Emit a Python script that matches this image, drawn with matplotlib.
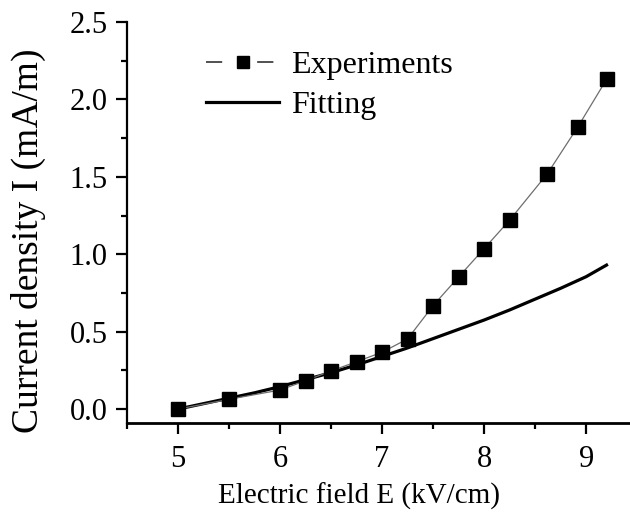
import matplotlib
matplotlib.use("Agg")
import matplotlib.pyplot as plt
from matplotlib.ticker import MultipleLocator
from matplotlib.lines import Line2D

plt.rcParams['font.family'] = ['Liberation Serif', 'DejaVu Serif']

exp_x = [5.0, 5.5, 6.0, 6.25, 6.5, 6.75, 7.0, 7.25, 7.5, 7.75, 8.0, 8.25, 8.62, 8.92, 9.2]
exp_y = [0.0, 0.063, 0.123, 0.183, 0.246, 0.306, 0.367, 0.453, 0.668, 0.853, 1.036, 1.22, 1.52, 1.824, 2.129]

fit_x = [5.0, 5.25, 5.5, 5.75, 6.0, 6.25, 6.5, 6.75, 7.0, 7.25, 7.5, 7.75, 8.0, 8.25, 8.5, 8.75, 9.0, 9.2]
fit_y = [0.0, 0.035, 0.07, 0.105, 0.145, 0.19, 0.235, 0.285, 0.34, 0.395, 0.455, 0.515, 0.575, 0.64, 0.71, 0.78, 0.855, 0.93]

x_ticks = [5, 6, 7, 8, 9]
y_ticks = [0.0, 0.5, 1.0, 1.5, 2.0, 2.5]
y_ticklabels = ['0.0', '0.5', '1.0', '1.5', '2.0', '2.5']

fig = plt.figure(figsize=(6.3, 5.17), dpi=100)
ax = fig.add_axes([127/630, 1 - 423/517, (630-127)/630, (423-22)/517])

ax.plot(exp_x, exp_y, color='#6e6e6e', lw=0.9, marker='s', markersize=9.5,
        markerfacecolor='black', markeredgecolor='black', zorder=3)
ax.plot(fit_x, fit_y, color='black', lw=2.3, zorder=2)

ax.set_xlim(4.5, 9.43)
ax.set_ylim(-0.09, 2.5)
ax.set_xticks(x_ticks)
ax.set_yticks(y_ticks)
ax.set_yticklabels(y_ticklabels)
ax.xaxis.set_minor_locator(MultipleLocator(0.5))
ax.yaxis.set_minor_locator(MultipleLocator(0.25))

for s in ['top', 'right']:
    ax.spines[s].set_visible(False)
ax.spines['left'].set_linewidth(1.6)
ax.spines['bottom'].set_linewidth(2.0)

ax.tick_params(which='major', direction='out', length=8, width=1.6, labelsize=22)
ax.tick_params(axis='x', which='major', pad=8)
ax.tick_params(axis='y', which='major', pad=6)
ax.tick_params(which='minor', direction='out', length=4, width=1.6)

ax.set_xlabel('Electric field E (kV/cm)', fontsize=21)
ax.xaxis.set_label_coords(0.461, -0.150)
ax.set_ylabel('Current density I (mA/m)', fontsize=27)
ax.yaxis.set_label_coords(-0.161, 0.454)

# legend handles
exp_line = Line2D([], [], color='#222222', lw=1.1, linestyle=(0, (10.6, 22.9)))
exp_mark = Line2D([], [], color='black', marker='s', markersize=8, linestyle='none')
fit_line = Line2D([], [], color='black', lw=2.3)

leg = ax.legend([(exp_line, exp_mark), fit_line], ['Experiments', 'Fitting'],
                loc='upper left', bbox_to_anchor=((206 - 127) / 503, (423 - 51) / 401),
                frameon=False, fontsize=23, handlelength=2.3, handletextpad=0.35,
                labelspacing=0.32, borderpad=0, borderaxespad=0)

fig.savefig('out.png', dpi=100)
